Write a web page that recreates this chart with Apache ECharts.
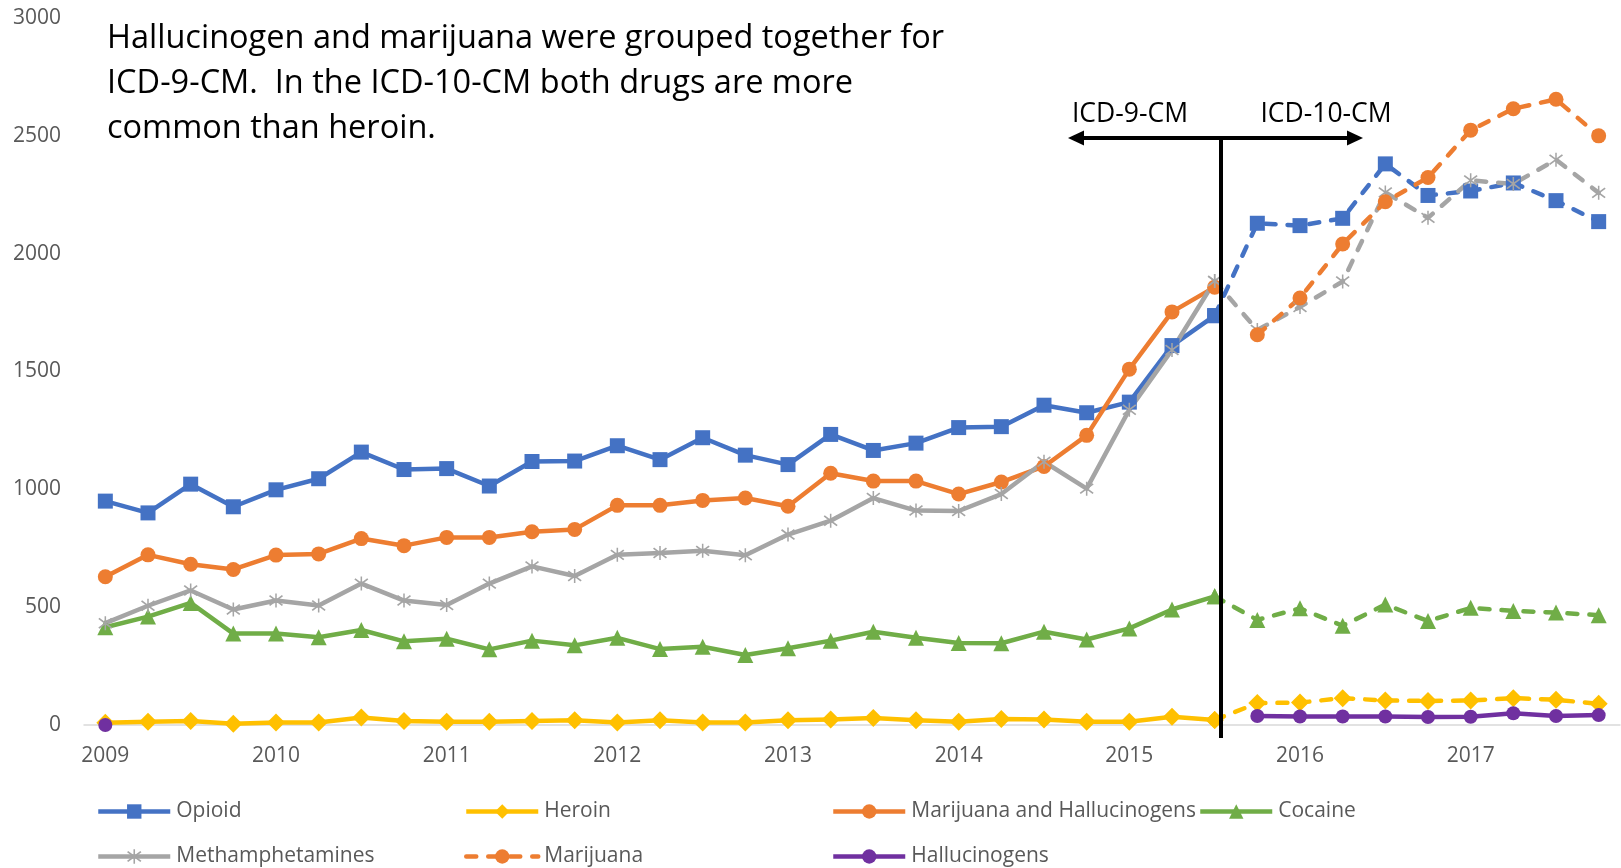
<!DOCTYPE html>
<html>
<head>
<meta charset="utf-8">
<script src="https://cdn.jsdelivr.net/npm/echarts@6.0.0/dist/echarts.min.js"></script>
<style>
  html, body { margin: 0; padding: 0; background: #ffffff; }
  #chart { width: 1621px; height: 868px; }
</style>
</head>
<body>
<div id="chart"></div>
<script>
// ---- Data (quarterly, 2009 Q1 .. 2017 Q4) ----
const quarters = [
  '2009 Q1','2009 Q2','2009 Q3','2009 Q4','2010 Q1','2010 Q2','2010 Q3','2010 Q4',
  '2011 Q1','2011 Q2','2011 Q3','2011 Q4','2012 Q1','2012 Q2','2012 Q3','2012 Q4',
  '2013 Q1','2013 Q2','2013 Q3','2013 Q4','2014 Q1','2014 Q2','2014 Q3','2014 Q4',
  '2015 Q1','2015 Q2','2015 Q3','2015 Q4','2016 Q1','2016 Q2','2016 Q3','2016 Q4',
  '2017 Q1','2017 Q2','2017 Q3','2017 Q4'
];
const yTicks = [0, 500, 1000, 1500, 2000, 2500, 3000];

// ICD-9-CM period: 2009 Q1 .. 2015 Q3 (27 quarters)
const opioidICD9 = [950, 900, 1022, 926, 998, 1045, 1158, 1084, 1088, 1014, 1118, 1120, 1185, 1126, 1219, 1145, 1105, 1233, 1165, 1196, 1262, 1266, 1357, 1325, 1370, 1610, 1737];
const heroinICD9 = [10, 14, 17, 5, 11, 11, 32, 17, 14, 14, 17, 20, 11, 20, 11, 11, 20, 23, 30, 20, 14, 25, 23, 14, 14, 35, 21];
const marijuanaHallucinogensICD9 = [629, 722, 682, 660, 721, 726, 791, 761, 796, 796, 820, 830, 932, 932, 953, 963, 928, 1068, 1035, 1035, 980, 1031, 1097, 1229, 1510, 1753, 1858];
const cocaineICD9 = [415, 460, 518, 388, 388, 372, 403, 355, 366, 321, 358, 338, 370, 322, 332, 297, 326, 358, 396, 370, 348, 347, 396, 363, 410, 490, 546];
const methICD9 = [432, 506, 571, 490, 528, 507, 600, 528, 509, 600, 673, 632, 722, 730, 739, 720, 808, 867, 963, 910, 908, 980, 1117, 1003, 1338, 1591, 1884];
const hallucinogensICD9 = [0];

// ICD-10-CM period: 2015 Q4 .. 2017 Q4 (9 quarters)
const opioidICD10 = [2129, 2119, 2150, 2381, 2247, 2266, 2300, 2225, 2136];
const heroinICD10 = [93, 95, 114, 104, 102, 104, 114, 107, 90];
const cocaineICD10 = [446, 495, 421, 511, 441, 497, 484, 477, 466];
const methICD10 = [1676, 1774, 1882, 2260, 2152, 2311, 2296, 2399, 2258];
const marijuanaICD10 = [1656, 1812, 2041, 2220, 2323, 2524, 2615, 2655, 2500];
const hallucinogensICD10 = [38, 36, 36, 36, 34, 35, 50, 38, 42];

// ---- Helpers to place segments on the 36-quarter axis ----
const N = quarters.length;
const ICD10_START = opioidICD9.length; // 27
function place(values, start) {
  const out = new Array(N).fill(null);
  values.forEach((v, i) => { out[start + i] = v; });
  return out;
}
// dashed continuation starts from the last ICD-9 value
function continued(icd9, icd10) {
  return place([icd9[icd9.length - 1]].concat(icd10), icd9.length - 1);
}

const C = {
  opioid: '#4472C4', heroin: '#FFC000', mh: '#ED7D31', cocaine: '#70AD47',
  meth: '#A5A5A5', marijuana: '#ED7D31', halluc: '#7030A0'
};
const FONT = 'Open Sans';
const LW = 4.5;
const DASH = [10, 12];
const starPath = 'path://M4.5,0 L5.5,0 L5.5,10 L4.5,10 Z M0.4,2 L1.1,1.1 L9.6,8 L8.9,8.9 Z M8.9,1.1 L9.6,2 L1.1,8.9 L0.4,8 Z';

function lineSeries(name, data, color, symbol, symbolSize, dashed) {
  return {
    name: name, type: 'line', data: data,
    symbol: symbol, symbolSize: symbolSize, showAllSymbol: true,
    connectNulls: false,
    lineStyle: { color: color, width: LW, type: dashed ? DASH : 'solid', cap: dashed ? 'round' : 'butt', join: 'round' },
    itemStyle: { color: color, borderWidth: 0 },
    emphasis: { disabled: true },
    animation: false
  };
}

const series = [
  lineSeries('Opioid', place(opioidICD9, 0), C.opioid, 'rect', 15, false),
  lineSeries('Opioid', continued(opioidICD9, opioidICD10), C.opioid, 'rect', 15, true),
  lineSeries('Heroin', place(heroinICD9, 0), C.heroin, 'diamond', 18, false),
  lineSeries('Heroin', continued(heroinICD9, heroinICD10), C.heroin, 'diamond', 18, true),
  lineSeries('Marijuana and Hallucinogens', place(marijuanaHallucinogensICD9, 0), C.mh, 'circle', 15, false),
  lineSeries('Cocaine', place(cocaineICD9, 0), C.cocaine, 'triangle', 16, false),
  lineSeries('Cocaine', continued(cocaineICD9, cocaineICD10), C.cocaine, 'triangle', 16, true),
  lineSeries('Methamphetamines', place(methICD9, 0), C.meth, starPath, 14, false),
  lineSeries('Methamphetamines', continued(methICD9, methICD10), C.meth, starPath, 14, true),
  lineSeries('Marijuana', place(marijuanaICD10, ICD10_START), C.marijuana, 'circle', 15, true),
  lineSeries('Hallucinogens', place(hallucinogensICD9, 0).map((v, i) => i >= ICD10_START ? hallucinogensICD10[i - ICD10_START] : v), C.halluc, 'circle', 14, false)
];

function legendAt(name, left, centerY) {
  return {
    data: [name], left: left, top: centerY - 8, padding: 0,
    itemWidth: 72, itemHeight: 18, itemGap: 0,
    selectedMode: false,
    lineStyle: { width: LW },
    textStyle: { fontFamily: FONT, fontSize: 21, color: '#595959', padding: [0, 0, 0, 1] }
  };
}

const annotation = 'Hallucinogen and marijuana were grouped together for\nICD-9-CM.  In the ICD-10-CM both drugs are more\ncommon than heroin.';

const option = {
  backgroundColor: '#ffffff',
  animation: false,
  grid: { left: 84, right: 1, top: 18, bottom: 143, containLabel: false },
  xAxis: {
    type: 'category', data: quarters, boundaryGap: true,
    axisLine: { show: true, lineStyle: { color: '#D9D9D9', width: 1.5 } },
    axisTick: { show: false },
    splitLine: { show: false },
    axisLabel: {
      interval: 3, margin: 21,
      formatter: v => v.slice(0, 4),
      fontFamily: FONT, fontSize: 21, color: '#595959'
    }
  },
  yAxis: {
    type: 'value', min: yTicks[0], max: yTicks[yTicks.length - 1], interval: 500,
    axisLine: { show: false }, axisTick: { show: false },
    splitLine: { show: false },
    axisLabel: { margin: 23, fontFamily: FONT, fontSize: 21, color: '#595959', formatter: v => String(v) }
  },
  legend: [
    legendAt('Opioid', 96, 809),
    legendAt('Heroin', 464, 809),
    legendAt('Marijuana and Hallucinogens', 831, 809),
    legendAt('Cocaine', 1198, 809),
    legendAt('Methamphetamines', 96, 854),
    legendAt('Marijuana', 464, 854),
    legendAt('Hallucinogens', 831, 854)
  ],
  series: series,
  graphic: [
    { type: 'text', x: 107, y: 16, z: 100,
      style: { text: annotation, fontFamily: FONT, fontSize: 32.5, lineHeight: 45, fill: '#000000', textVerticalAlign: 'top' } },
    { type: 'text', x: 1130, y: 114, z: 100,
      style: { text: 'ICD-9-CM', fontFamily: FONT, fontSize: 26.5, fill: '#000000', textAlign: 'center', textVerticalAlign: 'middle' } },
    { type: 'text', x: 1326, y: 114, z: 100,
      style: { text: 'ICD-10-CM', fontFamily: FONT, fontSize: 26.5, fill: '#000000', textAlign: 'center', textVerticalAlign: 'middle' } },
    { type: 'line', z: 100, shape: { x1: 1080, y1: 138, x2: 1351, y2: 138 }, style: { stroke: '#000000', lineWidth: 4 } },
    { type: 'polygon', z: 100, shape: { points: [[1068, 138], [1084, 130.5], [1084, 145.5]] }, style: { fill: '#000000' } },
    { type: 'polygon', z: 100, shape: { points: [[1363, 138], [1347, 130.5], [1347, 145.5]] }, style: { fill: '#000000' } },
    { type: 'line', z: 100, shape: { x1: 1221, y1: 136, x2: 1221, y2: 738 }, style: { stroke: '#000000', lineWidth: 4 } }
  ]
};

const chart = echarts.init(document.getElementById('chart'), null, { renderer: 'canvas' });
chart.setOption(option);
</script>
</body>
</html>
